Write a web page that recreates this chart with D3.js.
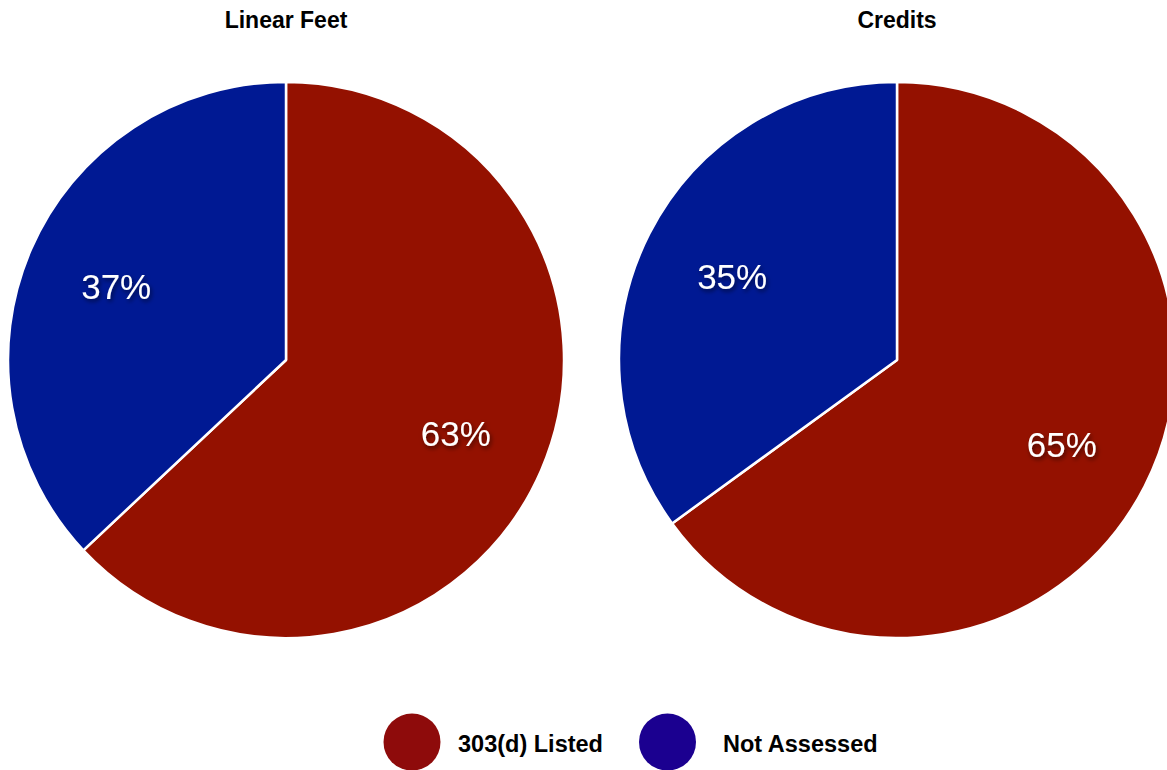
<!DOCTYPE html>
<html>
<head>
<meta charset="utf-8">
<script src="https://cdn.jsdelivr.net/npm/d3@7"></script>
<style>
  body { margin: 0; background: #fff; }
  text { font-family: "Liberation Sans", Arial, sans-serif; }
</style>
</head>
<body>
<svg id="chart" width="1167" height="770"></svg>
<script>
// Data
var categories = ["303(d) Listed", "Not Assessed"];
var chartTitles = ["Linear Feet", "Credits"];
var linearFeet = [63, 37];
var credits = [65, 35];
var seriesValues = [linearFeet, credits];

var svg = d3.select("#chart");

// Colours
var sliceColor = d3.scaleOrdinal().domain(categories).range(["#941100", "#001993"]);
var legendColor = d3.scaleOrdinal().domain(categories).range(["#8e0b0b", "#1b0090"]);

// Drop shadow for the labels
var defs = svg.append("defs");
var filter = defs.append("filter").attr("id", "shadow")
    .attr("x", "-20%").attr("y", "-20%").attr("width", "150%").attr("height", "160%");
filter.append("feDropShadow")
    .attr("dx", 1.5).attr("dy", 2.5).attr("stdDeviation", 2)
    .attr("flood-color", "#000").attr("flood-opacity", 0.55);

var radius = 278;
var centerX = d3.scalePoint().domain(chartTitles).range([286, 897]);
var centerY = 360;

var pie = d3.pie().sort(null).value(function(d) { return d; });
var arc = d3.arc().innerRadius(0).outerRadius(radius);
var labelArc = d3.arc().innerRadius(185 * 2 - radius).outerRadius(radius);

chartTitles.forEach(function(title, i) {
    var g = svg.append("g")
        .attr("transform", "translate(" + centerX(title) + "," + centerY + ")");

    var arcs = pie(seriesValues[i]);

    g.selectAll("path")
        .data(arcs)
        .enter().append("path")
        .attr("d", arc)
        .attr("fill", function(d, j) { return sliceColor(categories[j]); })
        .attr("stroke", "#fff")
        .attr("stroke-width", 2.5)
        .attr("stroke-linejoin", "round");

    g.selectAll("text.label")
        .data(arcs)
        .enter().append("text")
        .attr("class", "label")
        .attr("transform", function(d) { return "translate(" + labelArc.centroid(d) + ")"; })
        .attr("text-anchor", "middle")
        .attr("dy", "0.36em")
        .attr("fill", "#fff")
        .attr("font-size", 35)
        .attr("filter", "url(#shadow)")
        .text(function(d) { return d.value + "%"; });

    svg.append("text")
        .attr("x", centerX(title))
        .attr("y", 28)
        .attr("text-anchor", "middle")
        .attr("font-size", 23)
        .attr("font-weight", "bold")
        .attr("fill", "#000")
        .text(title);
});

// Legend
var legendX = d3.scalePoint().domain(categories).range([412, 667.5]);
var legend = svg.selectAll("g.legend")
    .data(categories)
    .enter().append("g")
    .attr("class", "legend")
    .attr("transform", function(d) { return "translate(" + legendX(d) + ",742)"; });

legend.append("circle")
    .attr("r", 28.5)
    .attr("fill", function(d) { return legendColor(d); });

legend.append("text")
    .attr("x", function(d, i) { return i === 0 ? 46 : 55.5; })
    .attr("y", 10)
    .attr("font-size", 23.5)
    .attr("font-weight", "bold")
    .attr("fill", "#000")
    .text(function(d) { return d; });
</script>
</body>
</html>
